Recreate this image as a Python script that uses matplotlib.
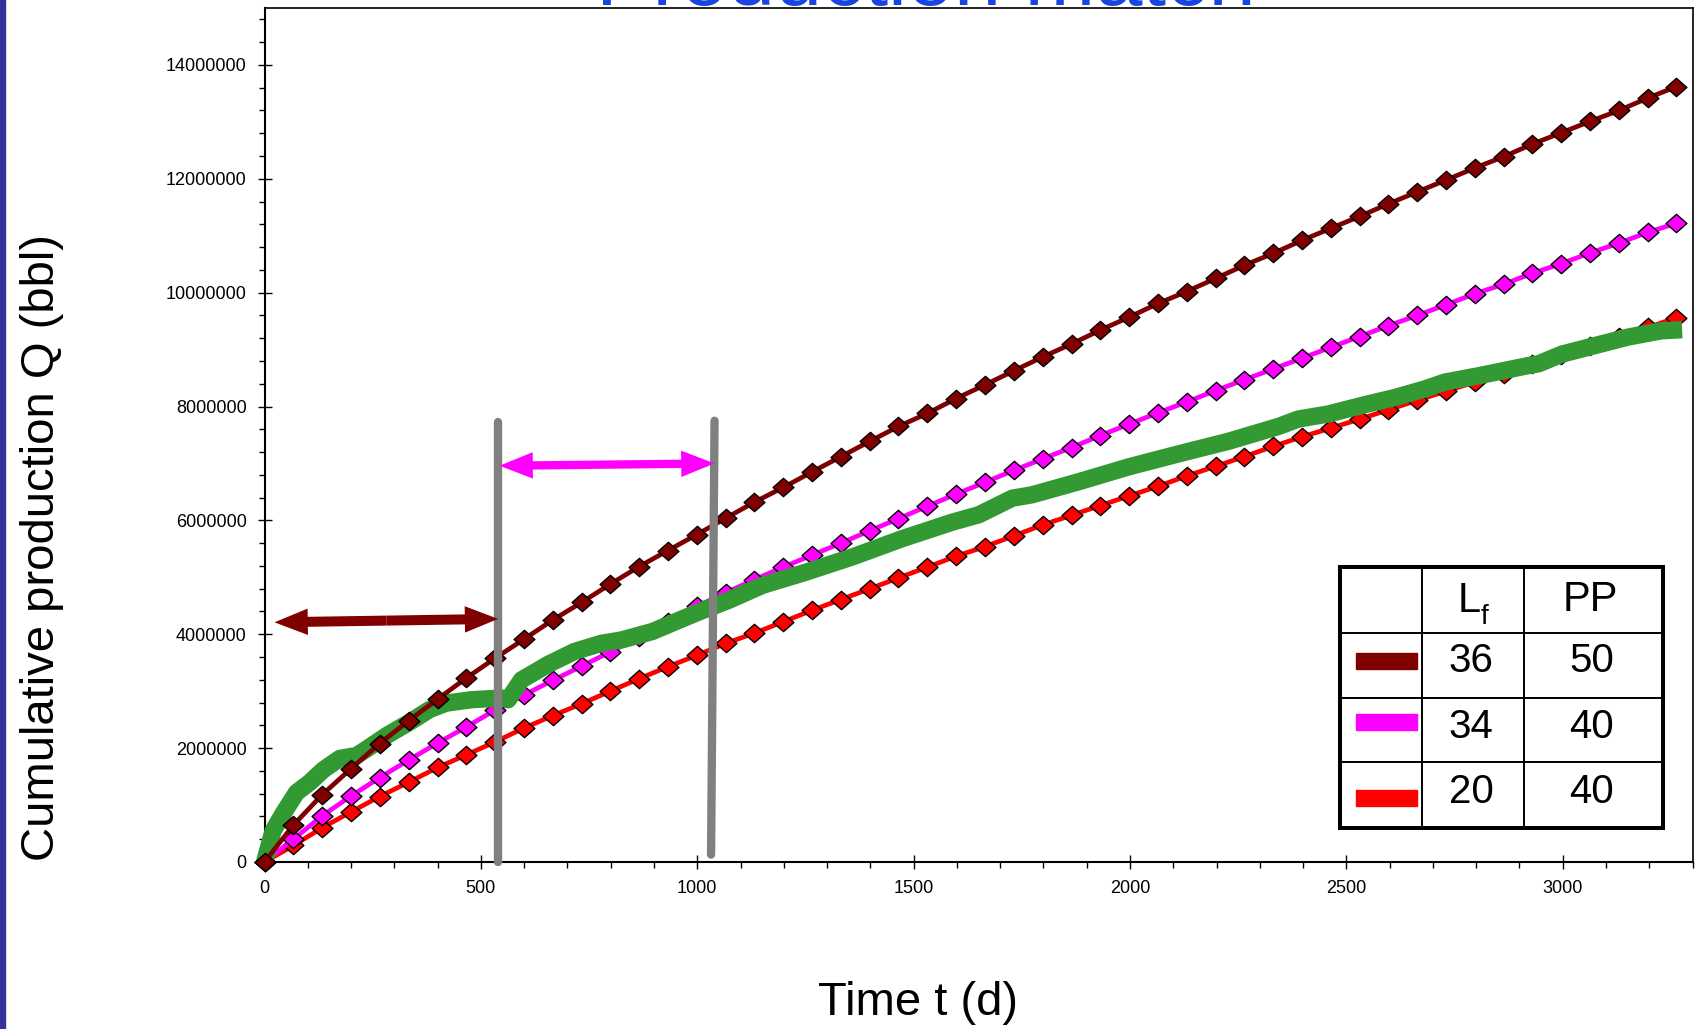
import numpy as np
import matplotlib
matplotlib.use('Agg')
import matplotlib.pyplot as plt
from matplotlib.patches import Rectangle
from matplotlib.path import Path
from matplotlib.ticker import MultipleLocator, FuncFormatter

plt.rcParams['font.family'] = ['Liberation Sans', 'DejaVu Sans']

# tiempos de simulacion (d)
t_sim = [0, 67, 133, 200, 266, 333, 400, 466, 533, 599, 666, 733, 799, 866, 932,
         999, 1066, 1132, 1199, 1265, 1332, 1399, 1465, 1532, 1598, 1665, 1732,
         1798, 1865, 1931, 1998, 2065, 2131, 2198, 2264, 2331, 2398, 2464, 2531,
         2597, 2664, 2731, 2797, 2864, 2930, 2997, 3064, 3130, 3197, 3263]

# produccion acumulada simulada (millones de bbl)
q_36_50 = [0, 0.65, 1.18, 1.64, 2.08, 2.48, 2.86, 3.23, 3.58, 3.91, 4.25, 4.56, 4.88,
           5.19, 5.47, 5.75, 6.04, 6.32, 6.58, 6.85, 7.12, 7.39, 7.65, 7.88, 8.14, 8.38,
           8.63, 8.87, 9.10, 9.34, 9.57, 9.81, 10.02, 10.25, 10.48, 10.69, 10.92,
           11.13, 11.34, 11.56, 11.77, 11.98, 12.19, 12.39, 12.61, 12.81, 13.01, 13.20,
           13.42, 13.62]
q_34_40 = [0, 0.40, 0.81, 1.16, 1.48, 1.79, 2.09, 2.37, 2.67, 2.93, 3.19, 3.44, 3.69,
           3.95, 4.22, 4.49, 4.73, 4.96, 5.18, 5.39, 5.60, 5.82, 6.03, 6.25, 6.46, 6.67,
           6.88, 7.08, 7.28, 7.49, 7.69, 7.89, 8.08, 8.28, 8.47, 8.66, 8.85,
           9.04, 9.23, 9.42, 9.60, 9.79, 9.98, 10.15, 10.34, 10.51, 10.70, 10.87,
           11.06, 11.22]
q_20_40 = [0, 0.29, 0.60, 0.88, 1.15, 1.40, 1.66, 1.88, 2.11, 2.35, 2.57, 2.78, 3.00,
           3.22, 3.43, 3.63, 3.84, 4.02, 4.22, 4.42, 4.61, 4.80, 4.99, 5.18, 5.37, 5.54,
           5.73, 5.92, 6.09, 6.26, 6.43, 6.60, 6.78, 6.95, 7.12, 7.30, 7.47,
           7.62, 7.78, 7.94, 8.11, 8.27, 8.43, 8.57, 8.75, 8.91, 9.07, 9.22, 9.39, 9.56]

# historia de produccion (datos de campo)
t_hist = [0, 20, 43, 74, 105, 136, 174, 213, 243, 282, 336, 382, 420, 478, 547, 563,
          594, 617, 655, 717, 778, 825, 897, 959, 1013, 1074, 1151, 1251, 1359, 1474,
          1590, 1651, 1728, 1774, 1882, 1997, 2113, 2228, 2343, 2389, 2459, 2536,
          2613, 2682, 2728, 2805, 2921, 2944, 2998, 3074, 3151, 3228, 3276]
q_hist = [0, 0.55, 0.85, 1.22, 1.40, 1.62, 1.82, 1.87, 2.02, 2.22, 2.46, 2.68, 2.79,
          2.85, 2.88, 2.85, 3.20, 3.30, 3.47, 3.70, 3.84, 3.90, 4.05, 4.25, 4.42, 4.60,
          4.86, 5.09, 5.36, 5.68, 5.97, 6.10, 6.39, 6.45, 6.68, 6.94, 7.17, 7.39, 7.65,
          7.78, 7.87, 8.02, 8.16, 8.31, 8.43, 8.54, 8.72, 8.75, 8.92, 9.07, 9.22, 9.33,
          9.35]

# lineas grises y flechas (dias, millones)
linea1_t = [540, 540]
linea1_q = [0.0, 7.72]
linea2_t = [1032, 1040]
linea2_q = [0.13, 7.75]
flecha1 = [(23, 4.21), (540, 4.27)]
flecha2 = [(543, 6.96), (1040, 7.00)]

# tabla
tabla_Lf = ['36', '34', '20']
tabla_PP = ['50', '40', '40']
colores = ['#800000', '#ff00ff', '#ff0000']

M = 1e6
W, H = 1696, 1029
fig = plt.figure(figsize=(W / 100, H / 100), dpi=100)
fig.patches.append(Rectangle((0, 0), 5 / W, 1, transform=fig.transFigure,
                             color='#333399', zorder=0))

x0, x1, y0, y1 = 264.5, 1692.5, 8, 862
ax = fig.add_axes([x0 / W, 1 - y1 / H, (x1 - x0) / W, (y1 - y0) / H])

rombo = Path([(-1, 0), (0, -0.88), (1, 0), (0, 0.88), (-1, 0)],
             [Path.MOVETO, Path.LINETO, Path.LINETO, Path.LINETO, Path.CLOSEPOLY])

sim = [(q_20_40, colores[2], 2), (q_34_40, colores[1], 3), (q_36_50, colores[0], 5)]
for q, c, z in sim:
    ax.plot(t_sim, np.array(q) * M, '-', color=c, lw=3.4, marker=rombo,
            ms=15, mfc=c, mec='black', mew=1.0, zorder=z, clip_on=False)

ax.plot(t_hist, np.array(q_hist) * M, '-', color='#339933', lw=12.5,
        solid_capstyle='butt', solid_joinstyle='round', zorder=4, clip_on=False)

ax.plot(linea1_t, np.array(linea1_q) * M, color='#808080', lw=6,
        solid_capstyle='round', zorder=6, clip_on=False)
ax.plot(linea2_t, np.array(linea2_q) * M, color='#808080', lw=6,
        solid_capstyle='round', zorder=6, clip_on=False)


def flecha_doble(p, color, ancho):
    (ta, qa), (tb, qb) = p
    mid = ((ta + tb) / 2, (qa + qb) / 2 * M)
    estilo = 'simple,head_length=24,head_width=19,tail_width=%g' % ancho
    for tt, qq in [(ta, qa), (tb, qb)]:
        ax.annotate('', xy=(tt, qq * M), xytext=mid, zorder=7,
                    arrowprops=dict(arrowstyle=estilo, mutation_scale=1,
                                    color=color, lw=0, shrinkA=0, shrinkB=0))


flecha_doble(flecha1, '#800000', 7.2)
flecha_doble(flecha2, '#ff00ff', 6.0)

ax.set_xlim(0, 3300)
ax.set_ylim(0, 15 * M)
ax.xaxis.set_major_locator(MultipleLocator(500))
ax.xaxis.set_minor_locator(MultipleLocator(100))
ax.yaxis.set_major_locator(MultipleLocator(2 * M))
ax.yaxis.set_minor_locator(MultipleLocator(0.4 * M))
ax.yaxis.set_major_formatter(FuncFormatter(lambda v, p: '%d' % int(round(v))))
ax.tick_params(which='major', direction='inout', length=9.5, width=1, labelsize=13)
ax.tick_params(which='minor', direction='out', length=4.5, width=1)
ax.tick_params(axis='x', which='major', pad=8)
ax.tick_params(axis='y', which='major', pad=8)
for s in ['left', 'bottom']:
    ax.spines[s].set_linewidth(1.5)
for s in ['top', 'right']:
    ax.spines[s].set_linewidth(1.2)

ax.set_ylabel('Cumulative production Q (bbl)', fontsize=34, va='center')
ax.yaxis.set_label_coords(-0.156, 0.368)
ax.set_xlabel('Time t (d)', fontsize=34, va='center')
ax.xaxis.set_label_coords(0.4576, -0.165)

fig.text(926 / W, 1 - 5 / H, 'Production match', ha='center', va='baseline',
         fontsize=61, color='#1a44e0')

# tabla de leyenda (coordenadas en pixeles dentro del recuadro)
tl, tt_, tw, th = 1339.5, 567.4, 323.5, 261
tab = fig.add_axes([tl / W, 1 - (tt_ + th) / H, tw / W, th / H])
tab.set_xlim(0, tw)
tab.set_ylim(th, 0)
tab.axis('off')
tab.add_patch(Rectangle((0, 0), tw, th, facecolor='white', edgecolor='black',
                        lw=2.9, clip_on=False))
for xc in [82.2, 184.5]:
    tab.plot([xc, xc], [0, th], color='black', lw=1.4)
for yr in [65.8, 130.3, 195]:
    tab.plot([0, tw], [yr, yr], color='black', lw=1.4)
tab.text(118, 44.6, 'L', fontsize=30, va='baseline', ha='left')
tab.text(141, 56.4, 'f', fontsize=20, va='baseline', ha='left')
tab.text(251, 43.7, 'PP', fontsize=30, va='baseline', ha='center')
filas_base = [105, 170.6, 236]
filas_sw = [93.3, 154.4, 230.3]
for i in range(3):
    tab.add_patch(Rectangle((16.5, filas_sw[i] - 8), 61, 16, color=colores[i]))
    tab.text(131.7, filas_base[i], tabla_Lf[i], fontsize=29, va='baseline', ha='center')
    tab.text(252.3, filas_base[i], tabla_PP[i], fontsize=29, va='baseline', ha='center')

fig.savefig('out.png', dpi=100)
